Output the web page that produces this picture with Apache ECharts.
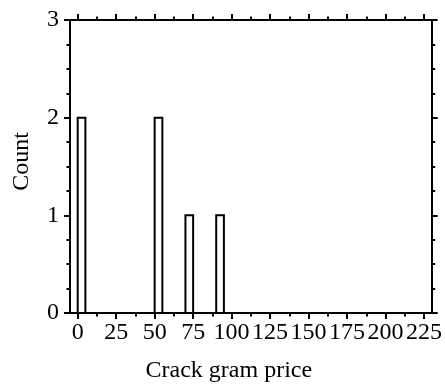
<!DOCTYPE html>
<html>
<head>
<meta charset="utf-8">
<script src="https://cdn.jsdelivr.net/npm/echarts@6/dist/echarts.min.js"></script>
<style>
  html, body { margin: 0; padding: 0; background: #fff; }
  #chart { width: 445px; height: 392px; }
</style>
</head>
<body>
<div id="chart"></div>
<script>
// Histogram of crack gram prices, bins of width 5
const binStarts = [0, 5, 10, 15, 20, 25, 30, 35, 40, 45, 50, 55, 60, 65, 70, 75, 80, 85, 90, 95,
                   100, 105, 110, 115, 120, 125, 130, 135, 140, 145, 150, 155, 160, 165, 170, 175,
                   180, 185, 190, 195, 200];
const counts    = [2, 0, 0, 0, 0, 0, 0, 0, 0, 0, 2, 0, 0, 0, 1, 0, 0, 0, 1, 0,
                   0, 0, 0, 0, 0, 0, 0, 0, 0, 0, 0, 0, 0, 0, 0, 0,
                   0, 0, 0, 0, 0];
const BIN_WIDTH = 5;

const xMajorTicks = [0, 25, 50, 75, 100, 125, 150, 175, 200, 225];
const xMinorTicks = [12.5, 37.5, 62.5, 87.5, 112.5, 137.5, 162.5, 187.5, 212.5];

const FONT = '"Liberation Serif", "Times New Roman", serif';
const X_MIN = -5, X_MAX = 230;

const histData = binStarts.map((s, i) => [s, s + BIN_WIDTH, counts[i]]);

function xAxisDef(pos, ticks, len, showLine, showLabel) {
  return {
    type: 'value', position: pos, min: X_MIN, max: X_MAX,
    name: showLabel ? 'Crack gram price' : '',
    nameLocation: 'middle', nameGap: 46,
    nameTextStyle: { fontFamily: FONT, fontSize: 24, color: '#000', padding: [0, 44, 0, 0] },
    axisLine: { show: showLine, onZero: false, lineStyle: { color: '#000', width: 2 } },
    axisTick: { show: true, inside: false, length: len, customValues: ticks,
                lineStyle: { color: '#000', width: 2 } },
    axisLabel: { show: showLabel, customValues: ticks, margin: 8,
                 fontFamily: FONT, fontSize: 24, color: '#000' },
    splitLine: { show: false }
  };
}

function yAxisDef(pos, showLabel) {
  return {
    type: 'value', position: pos, min: 0, max: 3, interval: 1,
    name: showLabel ? 'Count' : '',
    nameLocation: 'middle', nameGap: 36,
    nameTextStyle: { fontFamily: FONT, fontSize: 24, color: '#000', padding: [0, 0, 0, 10] },
    axisLine: { show: true, onZero: false, lineStyle: { color: '#000', width: 2 } },
    axisTick: { show: true, inside: false, length: 6, lineStyle: { color: '#000', width: 2 } },
    minorTick: { show: true, splitNumber: 4, length: 3.5, lineStyle: { color: '#000', width: 2 } },
    axisLabel: { show: showLabel, margin: 11, fontFamily: FONT, fontSize: 24, color: '#000' },
    splitLine: { show: false }
  };
}

const chart = echarts.init(document.getElementById('chart'), null, { renderer: 'canvas' });
chart.setOption({
  animation: false,
  backgroundColor: '#fff',
  grid: { left: 70, right: 12, top: 20, bottom: 79, containLabel: false },
  xAxis: [
    xAxisDef('bottom', xMajorTicks, 6, true, true),
    xAxisDef('bottom', xMinorTicks, 3.5, false, false),
    xAxisDef('top', xMajorTicks, 6, true, false),
    xAxisDef('top', xMinorTicks, 3.5, false, false)
  ],
  yAxis: [
    yAxisDef('left', true),
    yAxisDef('right', false)
  ],
  series: [{
    type: 'custom',
    xAxisIndex: 0,
    yAxisIndex: 0,
    data: histData,
    encode: { x: [0, 1], y: 2 },
    renderItem: function (params, api) {
      const p0 = api.coord([api.value(0), 0]);
      const p1 = api.coord([api.value(1), api.value(2)]);
      return {
        type: 'rect',
        shape: { x: p0[0], y: p1[1], width: p1[0] - p0[0], height: p0[1] - p1[1] },
        style: { fill: '#fff', stroke: '#000', lineWidth: 2 }
      };
    }
  }]
});
</script>
</body>
</html>
